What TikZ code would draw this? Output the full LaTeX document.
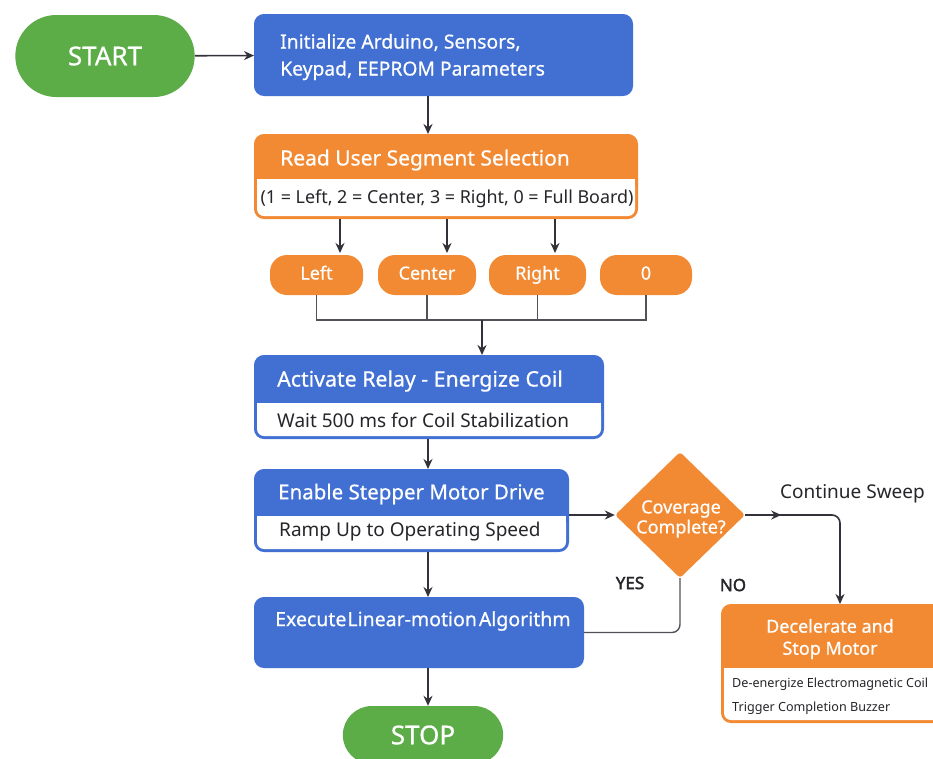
\documentclass[tikz,border=0pt]{standalone}
\usepackage{fontspec}
\setmainfont{Noto Sans}
\newfontfamily\semib{Noto Sans}[FakeBold=0.6]
\newfontfamily\boldf{Noto Sans}[FakeBold=2]
\usetikzlibrary{shapes.geometric,shapes.misc,arrows.meta}
\definecolor{flowblue}{RGB}{66,112,210}
\definecolor{floworange}{RGB}{242,138,52}
\definecolor{flowgreen}{RGB}{92,172,72}
\definecolor{flowline}{RGB}{50,50,58}
\definecolor{flowtext}{RGB}{38,38,42}
\newcommand{\fsz}[2]{\fontsize{#1pt}{#2pt}\selectfont}
\tikzset{
  term/.style={rounded rectangle,fill=flowgreen,text=white,font=\semib\fsz{26}{30}},
  blkbox/.style={rectangle,rounded corners=9pt,fill=flowblue,draw=flowblue,line width=2pt},
  orgbox/.style={blkbox,fill=floworange,draw=floworange},
  hdr/.style={text=white,font=\semib\fsz{20.5}{27},anchor=west,inner sep=0pt},
  sub/.style={text=flowtext,font=\fsz{19}{24},anchor=west,inner sep=0pt},
  opt/.style={rectangle,rounded corners=17pt,fill=floworange,text=white,font=\semib\fsz{18}{22},
    minimum height=40pt,text height=13pt,text depth=4pt},
  decision/.style={diamond,fill=floworange,minimum width=130pt,minimum height=126pt,
    inner sep=0pt,rounded corners=3pt},
  lbl/.style={text=flowtext,font=\fsz{19}{24},inner sep=0pt},
  yn/.style={text=flowtext,font=\boldf\fsz{17}{20},inner sep=0pt},
  arr/.style={-{Stealth[length=10pt,width=9pt]},line width=1.6pt,draw=flowline},
  ln/.style={line width=1.4pt,draw=flowline!85}
}
\begin{document}
\begin{tikzpicture}[x=1pt,y=-1pt]
  \useasboundingbox (0,0) rectangle (933,758);
  \fill[white] (0,0) rectangle (933,758);
  \coordinate (spine) at (428,0);

  \node[term,minimum width=186pt,minimum height=82pt] (start) at (105,56) {START};

  \node[blkbox,minimum width=377pt,minimum height=80pt] (init) at (443.5,55) {};
  \node[hdr,align=left,font=\semib\fsz{19.3}{27}] (initT) at (280,57) {Initialize Arduino, Sensors,\\Keypad, EEPROM Parameters};

  \node[orgbox,minimum width=382pt,minimum height=83pt] (read) at (446,176.5) {};
  \fill[white,rounded corners=7pt] (257,179) rectangle (635,216);
  \fill[white] (257,179) rectangle (635,195);
  \node[hdr,font=\semib\fsz{21}{27}] (readT) at (280,160) {Read User Segment Selection};
  \node[sub,anchor=center,font=\fsz{17.9}{24}] (readS) at (447,199) {(1 = Left, 2 = Center, 3 = Right, 0 = Full Board)};

  \node[opt,minimum width=93pt] (oL) at (316.5,275) {Left};
  \node[opt,minimum width=98pt] (oC) at (427,275) {Center};
  \node[opt,minimum width=97pt] (oR) at (537.5,275) {Right};
  \node[opt,minimum width=92pt] (oZ) at (646,275) {0};

  \node[blkbox,minimum width=348pt,minimum height=82pt] (act) at (429,397) {};
  \fill[white,rounded corners=7pt] (257,403) rectangle (601,436);
  \fill[white] (257,403) rectangle (601,418);
  \node[hdr,font=\semib\fsz{21.3}{27}] (actT) at (277,381) {Activate Relay - Energize Coil};
  \node[sub] (actS) at (277,420) {Wait 500 ms for Coil Stabilization};

  \node[blkbox,minimum width=313pt,minimum height=81pt] (enb) at (411.5,510.5) {};
  \fill[white,rounded corners=7pt] (257,516) rectangle (566,549);
  \fill[white] (257,516) rectangle (566,530);
  \node[hdr] (enbT) at (278,494) {Enable Stepper Motor Drive};
  \node[sub] (enbS) at (279,532) {Ramp Up to Operating Speed};

  \node[decision] (dia) at (680,515) {};
  \node[text=white,font=\semib\fsz{18}{20},align=center,inner sep=0pt] (diaT) at (681,519) {Coverage\\Complete?};
  \node[lbl,anchor=west] (cont) at (780,494) {Continue Sweep};
  \node[yn] (yes) at (630,583) {YES};
  \node[yn] (no) at (733,585) {NO};

  \node[blkbox,minimum width=328pt,minimum height=69pt] (exe) at (419,632.5) {};
  \node[hdr,font=\semib\fsz{19.5}{27}] (exeT) at (275,621) {Execute\kern1ptLinear-motion\kern2ptAlgorithm};

  \node[term,minimum width=167pt,minimum height=58pt] (stop) at (423,735) {STOP};

  \node[orgbox,minimum width=228pt,minimum height=117pt] (dec) at (836,663.5) {};
  \fill[white,rounded corners=7pt] (724,668) rectangle (948,720);
  \fill[white] (724,668) rectangle (948,690);
  \node[hdr,anchor=center,align=center,font=\semib\fsz{18}{22}] (decT) at (830,639) {Decelerate and\\Stop Motor};
  \node[sub,align=left,font=\fsz{12.6}{24}] (decS) at (732,696) {De-energize Electromagnetic Coil\\Trigger Completion Buzzer};

  \draw[arr] (start) -- (init);
  \draw[arr] (init.south -| spine) -- (read.north -| spine);
  \draw[arr] (read.south) ++(-106,0) -- ++(0,34);
  \draw[arr] (read.south) ++(1,0) -- ++(0,34);
  \draw[arr] (read.south) ++(109,0) -- ++(0,34);

  \coordinate (mrg) at (482,320);
  \draw[ln] (oL.south) |- (oZ.south |- mrg) -- (oZ.south);
  \draw[ln] (oC.south) -- (oC.south |- mrg);
  \draw[ln] (oR.south) -- (oR.south |- mrg);
  \draw[arr] (mrg) -- (mrg |- act.north);

  \draw[arr] (act.south -| spine) -- (enb.north -| spine);
  \draw[arr] (enb.east |- dia.west) -- (dia.west);
  \draw[arr] (dia.east) -- ++(36,0);
  \draw[arr,rounded corners=8pt] (dia.east) -| ([xshift=4pt]dec.north);
  \draw[ln,rounded corners=8pt] (dia.south) |- (exe.east);
  \draw[arr] (enb.south -| spine) -- (exe.north -| spine);
  \draw[arr] (exe.south -| spine) -- (stop.north -| spine);
\end{tikzpicture}
\end{document}
